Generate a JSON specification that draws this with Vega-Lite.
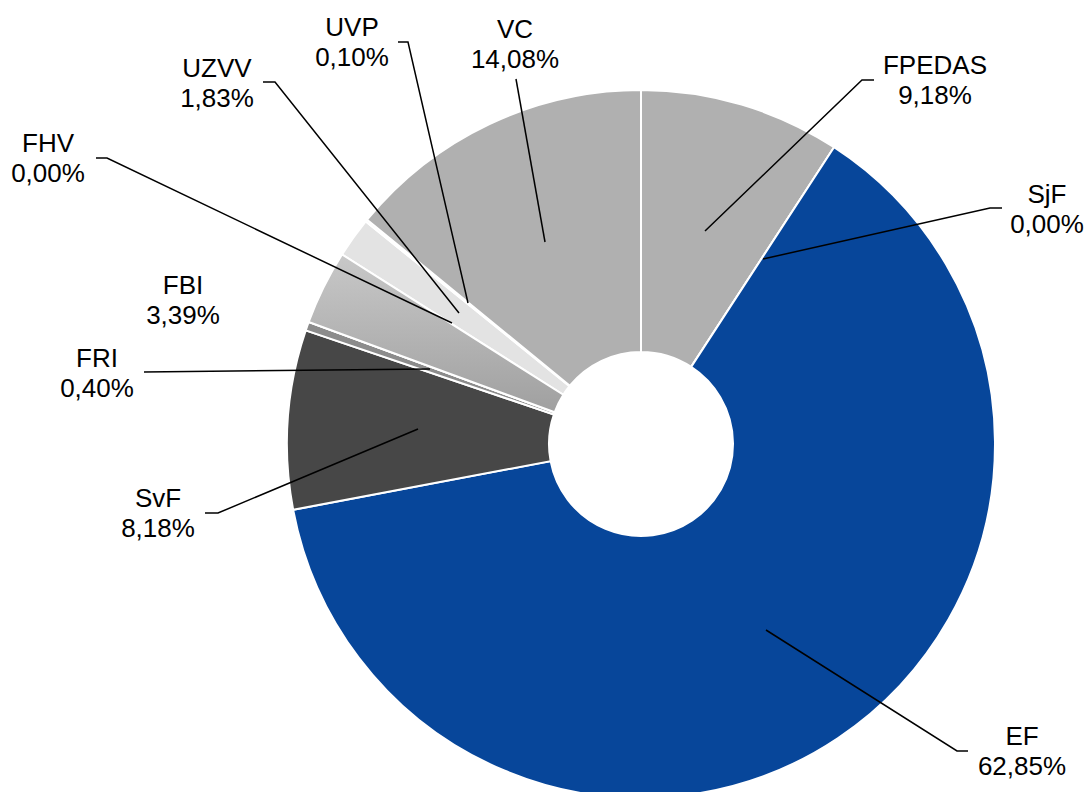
{
  "$schema": "https://vega.github.io/schema/vega-lite/v6.json",
  "width": 1087,
  "height": 792,
  "autosize": {"type": "none"},
  "padding": 0,
  "background": "white",
  "config": {"view": {"stroke": null}},
  "datasets": {
    "slices": [
      {"name": "FPEDAS", "pct": 9.18, "ord": 1},
      {"name": "SjF", "pct": 0.0, "ord": 2},
      {"name": "EF", "pct": 62.85, "ord": 3},
      {"name": "SvF", "pct": 8.18, "ord": 4},
      {"name": "FRI", "pct": 0.40, "ord": 5},
      {"name": "FBI", "pct": 3.39, "ord": 6},
      {"name": "FHV", "pct": 0.0, "ord": 7},
      {"name": "UZVV", "pct": 1.83, "ord": 8},
      {"name": "UVP", "pct": 0.10, "ord": 9},
      {"name": "VC", "pct": 14.08, "ord": 10}
    ],
    "labels": [
      {"name": "FPEDAS", "lx": 935, "ly": 74},
      {"name": "SjF", "lx": 1047, "ly": 203},
      {"name": "EF", "lx": 1022, "ly": 745},
      {"name": "SvF", "lx": 158, "ly": 507},
      {"name": "FRI", "lx": 97, "ly": 367},
      {"name": "FBI", "lx": 183, "ly": 294},
      {"name": "FHV", "lx": 48, "ly": 152},
      {"name": "UZVV", "lx": 217, "ly": 77},
      {"name": "UVP", "lx": 352, "ly": 36},
      {"name": "VC", "lx": 515, "ly": 38}
    ],
    "leaders": [
      {"name": "VC", "i": 1, "px": 516, "py": 79},
      {"name": "VC", "i": 2, "px": 545, "py": 242},
      {"name": "UVP", "i": 1, "px": 398, "py": 42},
      {"name": "UVP", "i": 2, "px": 408, "py": 42},
      {"name": "UVP", "i": 3, "px": 468, "py": 303},
      {"name": "UZVV", "i": 1, "px": 263, "py": 82},
      {"name": "UZVV", "i": 2, "px": 275, "py": 82},
      {"name": "UZVV", "i": 3, "px": 459, "py": 313},
      {"name": "FHV", "i": 1, "px": 96, "py": 158},
      {"name": "FHV", "i": 2, "px": 107, "py": 158},
      {"name": "FHV", "i": 3, "px": 452, "py": 323},
      {"name": "FRI", "i": 1, "px": 144, "py": 372},
      {"name": "FRI", "i": 2, "px": 430, "py": 369},
      {"name": "SvF", "i": 1, "px": 205, "py": 513},
      {"name": "SvF", "i": 2, "px": 218, "py": 513},
      {"name": "SvF", "i": 3, "px": 418, "py": 429},
      {"name": "EF", "i": 1, "px": 968, "py": 751},
      {"name": "EF", "i": 2, "px": 957, "py": 751},
      {"name": "EF", "i": 3, "px": 766, "py": 630},
      {"name": "SjF", "i": 1, "px": 1002, "py": 208},
      {"name": "SjF", "i": 2, "px": 990, "py": 208},
      {"name": "SjF", "i": 3, "px": 763, "py": 259},
      {"name": "FPEDAS", "i": 1, "px": 874, "py": 80},
      {"name": "FPEDAS", "i": 2, "px": 862, "py": 80},
      {"name": "FPEDAS", "i": 3, "px": 705, "py": 231}
    ]
  },
  "layer": [
    {
      "data": {"name": "slices"},
      "transform": [
        {"stack": "pct", "groupby": [], "sort": [{"field": "ord", "order": "ascending"}], "offset": "normalize", "as": ["t0", "t1"]}
      ],
      "mark": {"type": "arc", "outerRadius": 354, "innerRadius": 92, "stroke": "white", "strokeWidth": 2},
      "encoding": {
        "x": {"datum": 641, "type": "quantitative", "scale": {"domain": [0, 1087], "nice": false, "zero": false}, "axis": null},
        "y": {"datum": 444, "type": "quantitative", "scale": {"domain": [0, 792], "nice": false, "zero": false, "reverse": true}, "axis": null},
        "theta": {"field": "t0", "type": "quantitative", "scale": {"domain": [0, 1], "range": [0, 6.283185307179586]}},
        "theta2": {"field": "t1"},
        "color": {
          "field": "name", "type": "nominal", "legend": null,
          "scale": {
            "domain": ["FPEDAS", "SjF", "EF", "SvF", "FRI", "FBI", "FHV", "UZVV", "UVP", "VC"],
            "range": ["#b0b0b0", "#b0b0b0", "#07469a", "#474747", "#8c8c8c", "#b4b4b4", "#c8c8c8", "#e3e3e3", "#f2f2f2", "#b0b0b0"]
          }
        }
      }
    },
    {
      "data": {"name": "slices"},
      "transform": [
        {"stack": "pct", "groupby": [], "sort": [{"field": "ord", "order": "ascending"}], "offset": "normalize", "as": ["t0", "t1"]},
        {"filter": "datum.name === 'FBI'"}
      ],
      "mark": {
        "type": "arc", "outerRadius": 354, "innerRadius": 92, "stroke": "white", "strokeWidth": 2,
        "color": {"gradient": "linear", "x1": 0, "y1": 0, "x2": 0, "y2": 1, "stops": [{"offset": 0, "color": "#c8c8c8"}, {"offset": 1, "color": "#a0a0a0"}]}
      },
      "encoding": {
        "x": {"datum": 641, "type": "quantitative"},
        "y": {"datum": 444, "type": "quantitative"},
        "theta": {"field": "t0", "type": "quantitative"},
        "theta2": {"field": "t1"}
      }
    },
    {
      "data": {"name": "leaders"},
      "mark": {"type": "line", "color": "black", "strokeWidth": 1.5, "interpolate": "linear"},
      "encoding": {
        "x": {"field": "px", "type": "quantitative"},
        "y": {"field": "py", "type": "quantitative"},
        "detail": {"field": "name", "type": "nominal"},
        "order": {"field": "i", "type": "quantitative"}
      }
    },
    {
      "data": {"name": "labels"},
      "transform": [
        {"lookup": "name", "from": {"data": {"name": "slices"}, "key": "name", "fields": ["pct"]}},
        {"calculate": "[datum.name, replace(format(datum.pct, '.2f'), '.', ',') + '%']", "as": "label"}
      ],
      "mark": {"type": "text", "font": "Liberation Sans", "fontSize": 26, "lineHeight": 30, "align": "center", "baseline": "alphabetic", "color": "black"},
      "encoding": {
        "x": {"field": "lx", "type": "quantitative"},
        "y": {"field": "ly", "type": "quantitative"},
        "text": {"field": "label"}
      }
    }
  ]
}
